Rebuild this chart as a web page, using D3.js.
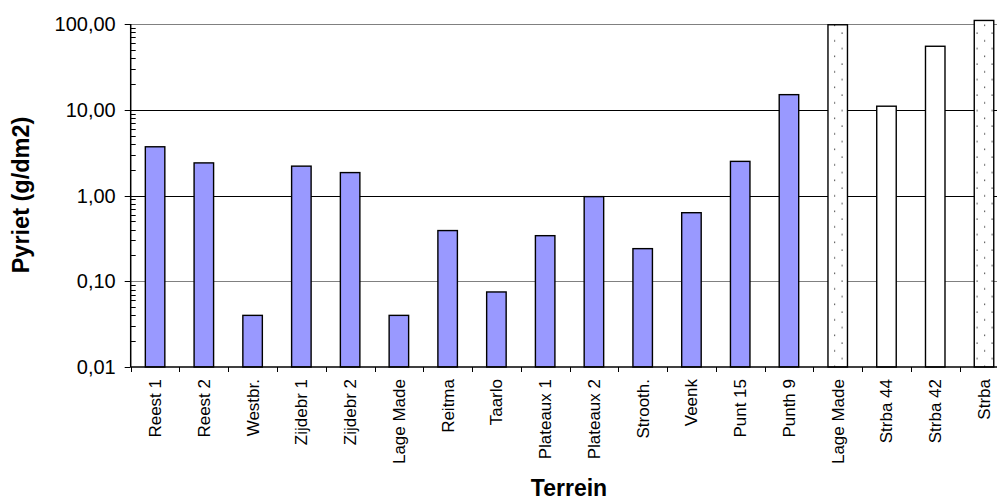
<!DOCTYPE html>
<html>
<head>
<meta charset="utf-8">
<script src="https://cdn.jsdelivr.net/npm/d3@7"></script>
<style>
  html, body { margin: 0; padding: 0; background: #fff; }
  svg { display: block; overflow: hidden; }
  text { font-family: Arial, "Liberation Sans", sans-serif; fill: #000; }
</style>
</head>
<body>
<svg id="chart" width="997" height="501"></svg>
<script>
// Pyriet per terrein (g/dm2), logaritmische schaal
const terreinen = ["Reest 1", "Reest 2", "Westbr.", "Zijdebr 1", "Zijdebr 2", "Lage Made",
  "Reitma", "Taarlo", "Plateaux 1", "Plateaux 2", "Strooth.", "Veenk", "Punt 15", "Punth 9",
  "Lage Made", "Strba 44", "Strba 42", "Strba"];
const pyriet = [3.7, 2.4, 0.04, 2.2, 1.85, 0.04,
  0.39, 0.075, 0.34, 0.97, 0.24, 0.63, 2.5, 15,
  98, 11, 55, 110];
// reeks: veldmeting, of referentie (gestippeld / open)
const reeks = ["meting", "meting", "meting", "meting", "meting", "meting",
  "meting", "meting", "meting", "meting", "meting", "meting", "meting", "meting",
  "ref-stip", "ref-open", "ref-open", "ref-stip"];
const yTicks = [0.01, 0.1, 1, 10, 100];
const yTickLabels = ["0,01", "0,10", "1,00", "10,00", "100,00"];

const svg = d3.select("#chart");
const plotLeft = 130.7, plotTop = 24, plotBottom = 367;
const band = 48.76;

const x = d3.scaleBand()
  .domain(d3.range(terreinen.length))
  .range([plotLeft, plotLeft + band * terreinen.length])
  .padding(0);

const y = d3.scaleLog().domain([0.01, 100]).range([plotBottom, plotTop]);

// stippelpatroon
const defs = svg.append("defs");
const pat = defs.append("pattern")
  .attr("id", "stip")
  .attr("patternUnits", "userSpaceOnUse")
  .attr("width", 15).attr("height", 15.5);
pat.append("rect").attr("width", 15).attr("height", 15.5).attr("fill", "#fff");
pat.append("rect").attr("x", 1.5).attr("y", 1.5).attr("width", 1.2).attr("height", 1.2).attr("fill", "#333");
pat.append("rect").attr("x", 9).attr("y", 9.25).attr("width", 1.2).attr("height", 1.2).attr("fill", "#333");

// rasterlijnen
const gridColor = { 0.1: "#808080", 1: "#000", 10: "#000", 100: "#808080" };
svg.append("g").selectAll("line")
  .data(yTicks.filter(d => d > 0.01))
  .join("line")
  .attr("x1", plotLeft).attr("x2", 997)
  .attr("y1", d => Math.round(y(d)) + 0.5)
  .attr("y2", d => Math.round(y(d)) + 0.5)
  .attr("stroke", d => gridColor[d])
  .attr("stroke-width", 1);

// staven
const fillFor = r => r === "meting" ? "#9999ff" : (r === "ref-stip" ? "url(#stip)" : "#fff");
const barW = 19.5;
svg.append("g").selectAll("rect")
  .data(pyriet)
  .join("rect")
  .attr("x", (d, i) => x(i) + (x.bandwidth() - barW) / 2)
  .attr("width", barW)
  .attr("y", d => y(d))
  .attr("height", d => y(0.01) - y(d))
  .attr("fill", (d, i) => fillFor(reeks[i]))
  .attr("stroke", "#000")
  .attr("stroke-width", 1.4);

// y-as
const yAxis = svg.append("g").attr("transform", `translate(${plotLeft},0)`);
yAxis.append("line")
  .attr("x1", 0).attr("x2", 0).attr("y1", plotTop).attr("y2", plotBottom)
  .attr("stroke", "#000").attr("stroke-width", 1.5);
// hoofdstreepjes
yAxis.selectAll("line.major")
  .data(yTicks)
  .join("line").attr("class", "major")
  .attr("x1", -6).attr("x2", 0)
  .attr("y1", d => Math.round(y(d)) + 0.5).attr("y2", d => Math.round(y(d)) + 0.5)
  .attr("stroke", "#000");
// hulpstreepjes 2..9 per decade
const minor = [];
yTicks.slice(0, -1).forEach(dec => { for (let k = 2; k <= 9; k++) minor.push(dec * k); });
yAxis.selectAll("line.minor")
  .data(minor)
  .join("line").attr("class", "minor")
  .attr("x1", 0).attr("x2", 5)
  .attr("y1", d => Math.round(y(d)) + 0.5).attr("y2", d => Math.round(y(d)) + 0.5)
  .attr("stroke", "#000");
yAxis.selectAll("text")
  .data(yTicks)
  .join("text")
  .attr("x", -15)
  .attr("y", d => y(d))
  .attr("dy", "0.36em")
  .attr("text-anchor", "end")
  .attr("font-size", 20)
  .text((d, i) => yTickLabels[i]);

// x-as
const xAxis = svg.append("g");
xAxis.append("line")
  .attr("x1", plotLeft).attr("x2", 997).attr("y1", plotBottom).attr("y2", plotBottom)
  .attr("stroke", "#000").attr("stroke-width", 1.5);
xAxis.selectAll("line.tick")
  .data(d3.range(terreinen.length + 1))
  .join("line").attr("class", "tick")
  .attr("x1", i => Math.round(plotLeft + i * band) + 0.5)
  .attr("x2", i => Math.round(plotLeft + i * band) + 0.5)
  .attr("y1", plotBottom).attr("y2", plotBottom + 5)
  .attr("stroke", "#000");
xAxis.selectAll("text")
  .data(terreinen)
  .join("text")
  .attr("transform", (d, i) => `translate(${x(i) + x.bandwidth() / 2},${plotBottom + 12}) rotate(-90)`)
  .attr("text-anchor", "end")
  .attr("dy", "0.35em")
  .attr("font-size", 17)
  .text(d => d);

// astitels
svg.append("text")
  .attr("transform", `translate(29,195) rotate(-90)`)
  .attr("text-anchor", "middle")
  .attr("font-size", 23.5)
  .attr("font-weight", "bold")
  .text("Pyriet (g/dm2)");
svg.append("text")
  .attr("x", 569).attr("y", 496)
  .attr("text-anchor", "middle")
  .attr("font-size", 23)
  .attr("font-weight", "bold")
  .text("Terrein");
</script>
</body>
</html>
